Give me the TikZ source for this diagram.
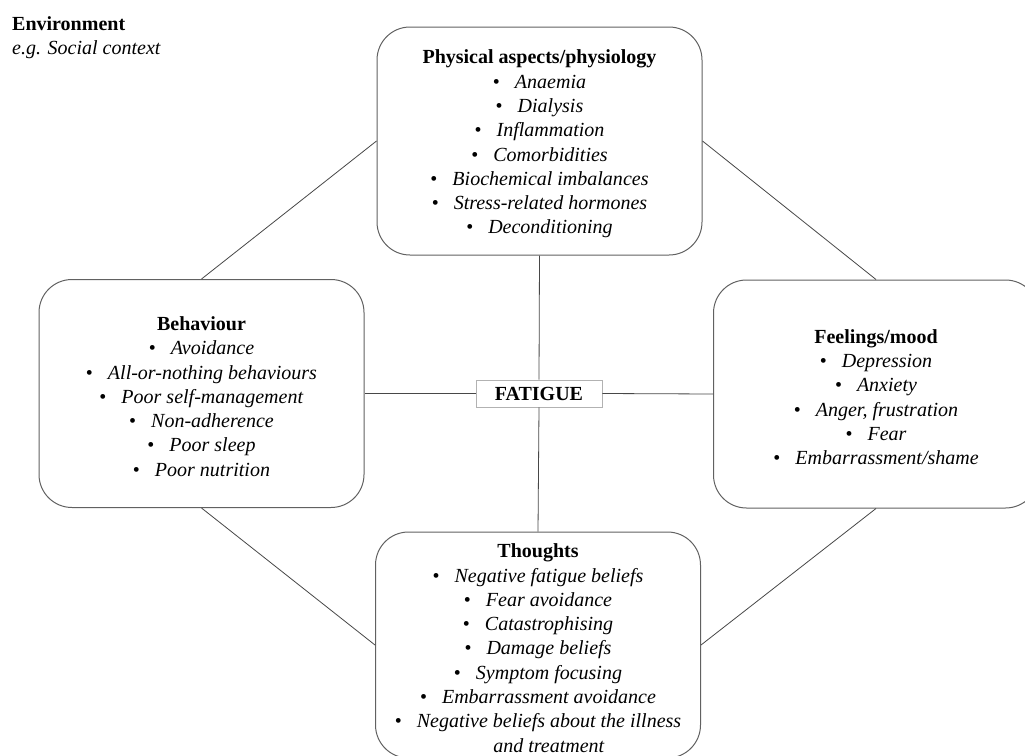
\documentclass[tikz,border=0pt]{standalone}
\usepackage{fontspec}
\setmainfont{Liberation Serif}
\newcommand{\itm}[1]{\textbullet\hspace{0.75em}\textit{#1}}
\newcommand{\ttl}[1]{\rule{0pt}{20pt}\textbf{#1}}
\tikzset{
  box/.style={draw=black!62, line width=1pt, rounded corners=33pt,
    minimum width=325pt, minimum height=228pt, align=center, inner sep=0pt,
    font=\fontsize{20}{24.3}\selectfont},
  conn/.style={draw=black!72, line width=0.8pt},
  core/.style={draw=black!30, fill=white, line width=0.8pt, minimum width=126pt,
    minimum height=27pt, inner sep=0pt, font=\fontsize{20}{24}\selectfont\bfseries},
  envtext/.style={anchor=north west, align=left, inner sep=0pt,
    font=\fontsize{20}{24.3}\selectfont}
}
\begin{document}
\begin{tikzpicture}[x=1pt,y=-1pt]
\useasboundingbox (0,0) rectangle (1025,755);
\clip (0,0) rectangle (1025,755);
\node[envtext] (env) at (12,16) {\textbf{Environment}\\\textit{e.g. Social context}};
\node[box] (top) at (539.5,141) {\ttl{Physical aspects/physiology}\\
  \itm{Anaemia}\\ \itm{Dialysis}\\ \itm{Inflammation}\\ \itm{Comorbidities}\\
  \itm{Biochemical imbalances}\\ \itm{Stress-related hormones}\\ \itm{Deconditioning}};
\node[box] (left) at (201.5,393.5) {\ttl{Behaviour}\\
  \itm{Avoidance}\\ \itm{All-or-nothing behaviours}\\ \itm{Poor self-management}\\
  \itm{Non-adherence}\\ \itm{Poor sleep}\\ \itm{Poor nutrition}};
\node[box] (right) at (876,394) {\ttl{Feelings/mood}\\
  \itm{Depression}\\ \itm{Anxiety}\\ \itm{Anger, frustration}\\ \itm{Fear}\\
  \itm{Embarrassment/shame}};
\node[box, minimum height=226pt] (bottom) at (538,645) {\ttl{Thoughts}\\
  \itm{Negative fatigue beliefs}\\ \itm{Fear avoidance}\\ \itm{Catastrophising}\\
  \itm{Damage beliefs}\\ \itm{Symptom focusing}\\ \itm{Embarrassment avoidance}\\
  \itm{Negative beliefs about the illness}\\ \hspace*{1.1em}\textit{and treatment}};
\node[core] (fat) at (539,393.5) {FATIGUE};
\draw[conn] (fat.west) -- (left.east);
\draw[conn] (fat.east) -- (right.west);
\draw[conn] (fat.north) -- (top.south);
\draw[conn] (fat.south) -- (bottom.north);
\draw[conn] (top.west) -- (left.north);
\draw[conn] (top.east) -- (right.north);
\draw[conn] (left.south) -- (bottom.west);
\draw[conn] (right.south) -- (bottom.east);
\end{tikzpicture}
\end{document}
